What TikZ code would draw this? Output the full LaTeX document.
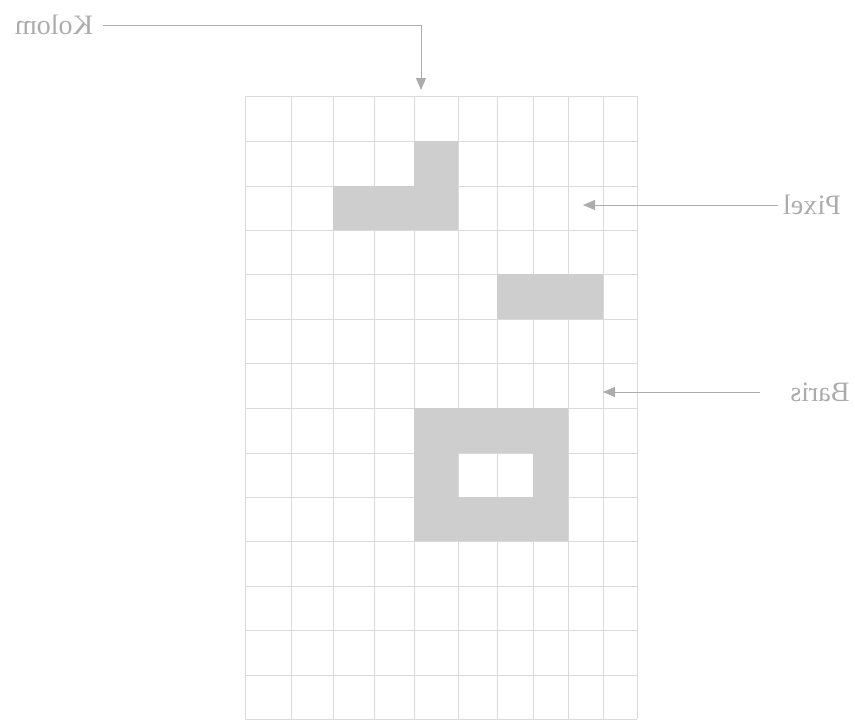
\documentclass[tikz,border=0pt]{standalone}
\usepackage{fontspec}
\setmainfont{Liberation Serif}
\usetikzlibrary{arrows.meta, positioning, calc}
\definecolor{gridgray}{RGB}{218,218,218}
\definecolor{cellgray}{RGB}{206,206,206}
\definecolor{labelgray}{RGB}{172,172,172}

\begin{document}
\begin{tikzpicture}[x=0.02cm, y=-0.02cm, >={Triangle[length=0.24cm,width=0.2cm]},
        gridline/.style={draw=gridgray, line width=0.5pt},
        cell/.style={fill=cellgray},
        lbl/.style={text=labelgray, font=\fontsize{16}{18}\selectfont, inner sep=0.1cm},
        pointer/.style={->, draw=labelgray, line width=0.5pt}]
    \useasboundingbox (0,0) rectangle (855,724);
    % grid line positions
    \foreach \x [count=\i from 0] in {245,291,333,374,414,458,497,533,568,603,637}
        \coordinate (c\i) at (\x,0);
    \foreach \y [count=\j from 0] in {96,141,186,230,274,319,363,408,453,497,541,586,630,675,719}
        \coordinate (r\j) at (0,\y);
    \foreach \i in {0,...,10} \draw[gridline] (c\i|-r0) -- (c\i|-r14);
    \foreach \j in {0,...,14} \draw[gridline] (c0|-r\j) -- (c10|-r\j);
    % filled pixels
    \fill[cell] (c4|-r1) rectangle (c5|-r2);
    \fill[cell] (c2|-r2) rectangle (c5|-r3);
    \fill[cell] (c6|-r4) rectangle (c9|-r5);
    \fill[cell, even odd rule] (c4|-r7) rectangle (c8|-r10) (c5|-r8) rectangle (c7|-r9);
    % labels
    \node[lbl] (kolom) at (54,25) {\reflectbox{Kolom}};
    \node[lbl] (pixel) at (812,205) {\reflectbox{Pixel}};
    \node[lbl] (baris) at (820,392) {\reflectbox{Baris}};
    \coordinate (kolomtip) at (421,90);
    \coordinate (pixeltip) at (583,204);
    \coordinate (baristip) at (603,392);
    \draw[pointer, shorten <=0.1cm] (kolom.east) -| (kolomtip);
    \draw[pointer] (pixel.west) -- (pixeltip |- pixel.west);
    \draw[pointer, shorten <=0.5cm] (baris.west) -- (baristip |- baris.west);
\end{tikzpicture}
\end{document}
